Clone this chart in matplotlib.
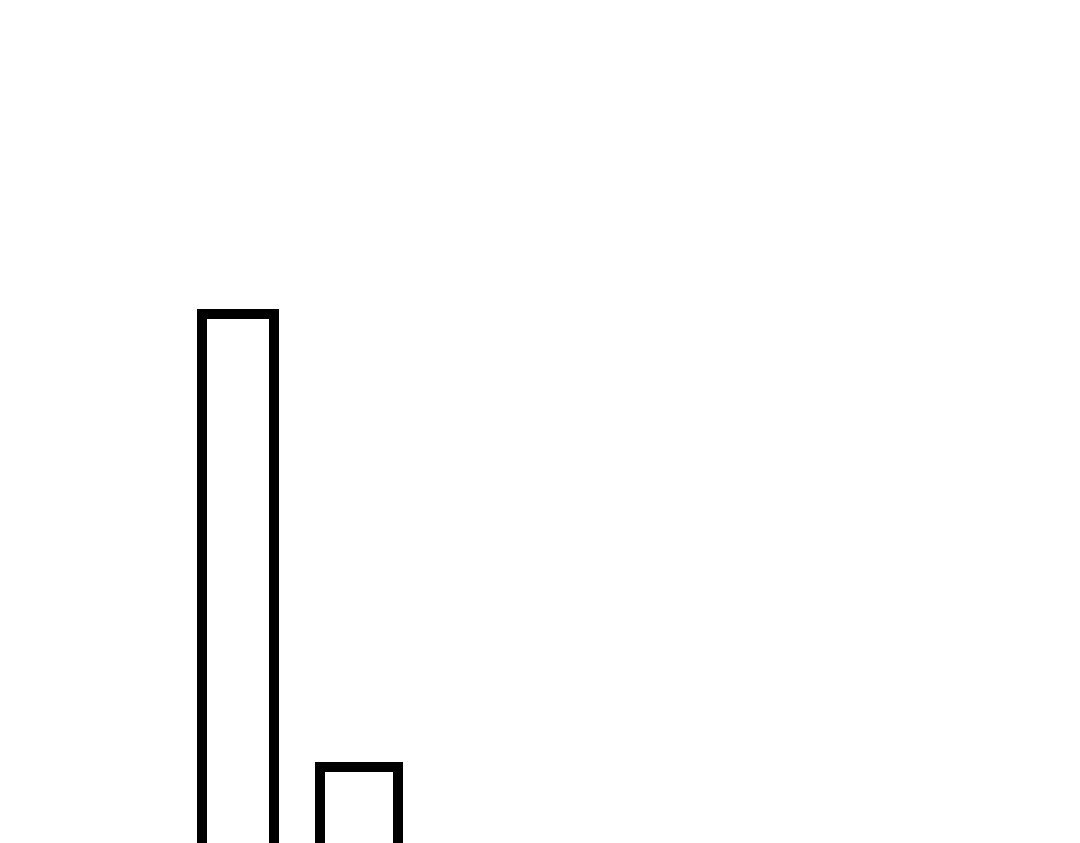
import matplotlib
matplotlib.use('Agg')
import matplotlib.pyplot as plt

# two bars, only the tops are visible in the frame
categories = ['A', 'B']
values = [72.8, 19.0]
bar_widths = [0.59, 0.64]


def main():
    fig = plt.figure(figsize=(10.8, 8.43), dpi=100)
    ax = fig.add_axes([0, 0, 1, 1])

    positions = list(range(len(categories)))
    ax.bar(positions, values, width=bar_widths,
           color='white', edgecolor='black', linewidth=7.2)

    ax.set_xlim(-1.96, 6.94)
    ax.set_ylim(10, 110)
    ax.axis('off')

    fig.savefig('out.png', dpi=100, facecolor='white')


if __name__ == '__main__':
    main()
